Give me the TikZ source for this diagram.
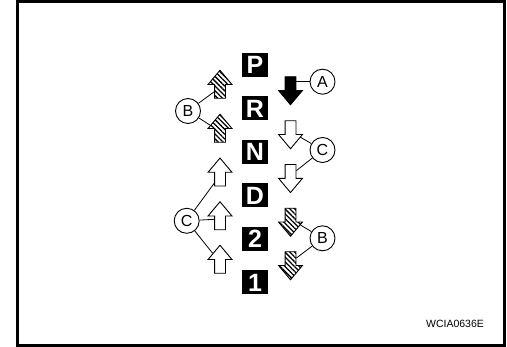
\documentclass[tikz,border=0pt]{standalone}
\usepackage{fontspec}
\setmainfont{Liberation Sans}
\usetikzlibrary{shapes.arrows,patterns.meta}
\begin{document}
\begin{tikzpicture}[x=1pt,y=-1pt,
  gear/.style={fill=black,text=white,font=\fontsize{25}{25}\selectfont\bfseries,minimum width=26pt,minimum height=24pt,inner sep=0pt},
  arr/.style={single arrow,draw=black,line width=0.9pt,minimum height=28pt,single arrow head extend=6.5pt,single arrow tip angle=80,inner sep=5pt,fill=white},
  uparr/.style={arr,shape border rotate=90},
  downarr/.style={arr,shape border rotate=270},
  hatch/.style={postaction={pattern={Lines[angle=-45,distance=3.4pt,line width=1.3pt]}}},
  lbl/.style={circle,draw,line width=0.9pt,minimum size=25pt,inner sep=0pt,font=\fontsize{16}{16}\selectfont},
  conn/.style={line width=0.8pt}]
\useasboundingbox (0,0) rectangle (507,347);
\draw[line width=3pt] (17.5,1.5) rectangle (504.5,345.3);
% gear positions
\node[gear] (P) at (255,65) {P};
\node[gear] (R) at (255,108.5) {R};
\node[gear] (N) at (255,152) {N};
\node[gear] (D) at (255,195.5) {D};
\node[gear] (G2) at (255,239) {2};
\node[gear] (G1) at (255,282.5) {1};
% left up arrows
\node[uparr,hatch] (l1) at (220,87.5) {};
\node[uparr,hatch] (l2) at (220,131.5) {};
\node[uparr] (l3) at (220,175.3) {};
\node[uparr] (l4) at (220,219) {};
\node[uparr] (l5) at (220,262.5) {};
% right down arrows
\node[downarr,fill=black] (r1) at (290.5,87.5) {};
\node[downarr] (r2) at (290.5,131.5) {};
\node[downarr] (r3) at (290.5,175.3) {};
\node[downarr,hatch] (r4) at (290.5,219) {};
\node[downarr,hatch] (r5) at (290.5,262.5) {};
% labels
\node[lbl] (A) at (322.5,81.7) {A};
\node[lbl] (Cr) at (322.5,150) {C};
\node[lbl] (Br) at (322.5,238.3) {B};
\node[lbl] (Bl) at (188,111) {B};
\node[lbl] (Cl) at (186.7,220.8) {C};
% connectors
\coordinate (aend) at (296,81.7);
\draw[conn] (A) -- (aend);
\draw[conn] (Bl) -- (l1);
\draw[conn] (Bl) -- (l2);
\draw[conn] (Cl) -- (l3);
\draw[conn] (Cl) -- (l4);
\draw[conn] (Cl) -- (l5);
\draw[conn] (Cr) -- (r2);
\draw[conn] (Cr) -- (r3);
\draw[conn] (Br) -- (r4);
\draw[conn] (Br) -- (r5);
\node[font=\fontsize{10.5}{10.5}\selectfont] (code) at (455,323.5) {WCIA0636E};
\end{tikzpicture}
\end{document}
